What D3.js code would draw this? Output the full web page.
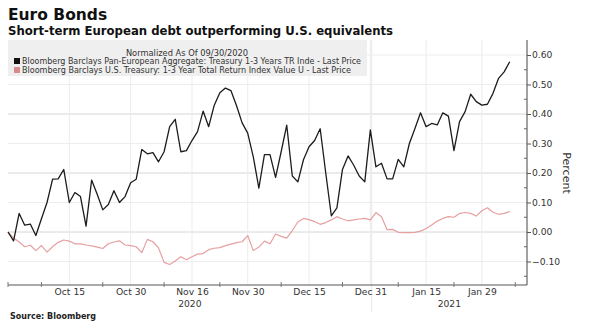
<!DOCTYPE html>
<html>
<head>
<meta charset="utf-8">
<script src="https://cdn.jsdelivr.net/npm/d3@7"></script>
<style>
  html, body { margin: 0; padding: 0; background: #fff; }
  svg { display: block; font-family: "DejaVu Sans", Verdana, sans-serif; }
</style>
</head>
<body>
<svg id="chart" width="594" height="330"></svg>
<script>
// ---------- DATA ----------
const dates = [
  "2020-09-30",
  "2020-10-01","2020-10-02","2020-10-05","2020-10-06","2020-10-07","2020-10-08","2020-10-09",
  "2020-10-12","2020-10-13","2020-10-14","2020-10-15","2020-10-16","2020-10-19","2020-10-20",
  "2020-10-21","2020-10-22","2020-10-23","2020-10-26","2020-10-27","2020-10-28","2020-10-29","2020-10-30",
  "2020-11-02","2020-11-03","2020-11-04","2020-11-05","2020-11-06","2020-11-09","2020-11-10",
  "2020-11-11","2020-11-12","2020-11-13","2020-11-16","2020-11-17","2020-11-18","2020-11-19",
  "2020-11-20","2020-11-23","2020-11-24","2020-11-25","2020-11-26","2020-11-27","2020-11-30",
  "2020-12-01","2020-12-02","2020-12-03","2020-12-04","2020-12-07","2020-12-08","2020-12-09",
  "2020-12-10","2020-12-11","2020-12-14","2020-12-15","2020-12-16","2020-12-17","2020-12-18",
  "2020-12-21","2020-12-22","2020-12-23","2020-12-24","2020-12-28","2020-12-29","2020-12-30","2020-12-31",
  "2021-01-04","2021-01-05","2021-01-06","2021-01-07","2021-01-08","2021-01-11","2021-01-12",
  "2021-01-13","2021-01-14","2021-01-15","2021-01-18","2021-01-19","2021-01-20","2021-01-21",
  "2021-01-22","2021-01-25","2021-01-26","2021-01-27","2021-01-28","2021-01-29",
  "2021-02-01","2021-02-02","2021-02-03","2021-02-04","2021-02-05"
];

const euroSeries = [
  0.000,-0.030,0.063,0.023,0.027,-0.012,0.045,0.100,0.179,0.180,
  0.212,0.100,0.134,0.120,0.020,0.176,0.128,0.075,0.093,0.140,
  0.100,0.120,0.167,0.179,0.280,0.265,0.269,0.238,0.272,0.357,
  0.382,0.272,0.276,0.310,0.340,0.410,0.357,0.430,0.472,0.488,
  0.479,0.428,0.370,0.335,0.255,0.149,0.262,0.262,0.185,0.272,
  0.362,0.190,0.170,0.245,0.289,0.310,0.350,0.200,0.055,0.082,
  0.212,0.258,0.227,0.190,0.170,0.346,0.221,0.233,0.180,0.180,
  0.246,0.221,0.300,0.351,0.404,0.357,0.368,0.363,0.404,0.393,
  0.276,0.374,0.408,0.467,0.442,0.430,0.433,0.470,0.521,0.543,
  0.577
];

const usSeries = [
  0.000,-0.020,-0.034,-0.050,-0.045,-0.063,-0.046,-0.068,-0.050,-0.035,
  -0.027,-0.031,-0.040,-0.040,-0.044,-0.047,-0.051,-0.056,-0.040,-0.034,
  -0.030,-0.044,-0.046,-0.050,-0.070,-0.025,-0.033,-0.054,-0.103,-0.110,
  -0.098,-0.084,-0.094,-0.084,-0.075,-0.073,-0.060,-0.055,-0.053,-0.046,
  -0.041,-0.036,-0.033,-0.012,-0.063,-0.051,-0.031,-0.040,-0.007,-0.015,
  -0.021,0.005,0.034,0.046,0.042,0.035,0.026,0.032,0.041,0.052,
  0.044,0.038,0.041,0.044,0.046,0.041,0.066,0.052,0.008,0.009,
  -0.001,-0.002,-0.002,-0.001,0.003,0.012,0.024,0.037,0.046,0.052,
  0.050,0.063,0.066,0.063,0.054,0.072,0.082,0.067,0.060,0.063,
  0.069
];

const xTickDates  = ["2020-10-15","2020-10-30","2020-11-16","2020-11-30","2020-12-15","2020-12-31","2021-01-15","2021-01-29"];
const xTickLabels = ["Oct 15","Oct 30","Nov 16","Nov 30","Dec 15","Dec 31","Jan 15","Jan 29"];
const xMinorTicks = [6,17,28,38,49,60,70,80,91];           // trading-day index
const yearLabels  = ["2020","2021"];
const yTicks      = [-0.10,0.00,0.10,0.20,0.30,0.40,0.50,0.60];
const yMinorTicks = [-0.15,-0.05,0.05,0.15,0.25,0.35,0.45,0.55];

const seriesNames = [
  "Bloomberg Barclays Pan-European Aggregate: Treasury 1-3 Years TR Inde - Last Price",
  "Bloomberg Barclays U.S. Treasury: 1-3 Year Total Return Index Value U - Last Price"
];
const seriesColors = ["#1c1c1c", "#e6a0a0"];
const legendSwatch = ["#111111", "#d98a8a"];

// ---------- LAYOUT ----------
const svg = d3.select("#chart");
const plotL = 8, plotR = 527, plotT = 40, plotB = 285;

const x = d3.scaleLinear().domain([0, 93.1]).range([plotL, plotR]);
const y = d3.scaleLinear().domain([-0.10, 0.60]).range([261.5, 55]);

const idx = d => dates.indexOf(d);
const yearSplit = dates.findIndex(d => d.startsWith("2021")) - 0.75;

// gridlines
const grid = svg.append("g");
grid.selectAll("line.h").data(yTicks).join("line")
  .attr("x1", plotL).attr("x2", plotR)
  .attr("y1", d => y(d)).attr("y2", d => y(d))
  .attr("stroke", (d) => (Math.round(d * 100) % 20 === 0 && d < 0.55) ? "#d6d6d6" : "#ededed")
  .attr("stroke-width", 1);
grid.selectAll("line.v").data(xTickDates).join("line")
  .attr("x1", d => x(idx(d))).attr("x2", d => x(idx(d)))
  .attr("y1", plotT).attr("y2", plotB)
  .attr("stroke", "#ececec").attr("stroke-width", 1);

// year separator
svg.append("line")
  .attr("x1", x(yearSplit)).attr("x2", x(yearSplit))
  .attr("y1", plotT).attr("y2", 312)
  .attr("stroke", "#e8e8e8").attr("stroke-width", 1);

// lines
const line = d3.line().x((d, i) => x(i)).y(d => y(d));
svg.append("path").datum(usSeries)
  .attr("fill", "none").attr("stroke", seriesColors[1]).attr("stroke-width", 1.2)
  .attr("stroke-linejoin", "round").attr("d", line);
svg.append("path").datum(euroSeries)
  .attr("fill", "none").attr("stroke", seriesColors[0]).attr("stroke-width", 1.3)
  .attr("stroke-linejoin", "round").attr("d", line);

// legend box
const lg = svg.append("g");
lg.append("rect").attr("x", plotL).attr("y", 40).attr("width", 359).attr("height", 36)
  .attr("fill", "#efefef");
lg.append("text").attr("x", 187).attr("y", 55.5).attr("text-anchor", "middle")
  .attr("font-size", 8.3).attr("fill", "#333").text("Normalized As Of 09/30/2020");
const legendLens = [339, 329];
seriesNames.forEach((name, i) => {
  const by = 64 + i * 9;
  lg.append("rect").attr("x", 14).attr("y", by - 6).attr("width", 6).attr("height", 6)
    .attr("fill", legendSwatch[i]);
  lg.append("text").attr("x", 22).attr("y", by)
    .attr("font-size", 8.3).attr("fill", "#333")
    .attr("textLength", legendLens[i]).attr("lengthAdjust", "spacingAndGlyphs")
    .text(name);
});

// x axis
const xAxisG = svg.append("g").attr("transform", `translate(0,${plotB})`);
xAxisG.append("line").attr("x1", plotL).attr("x2", plotR).attr("y1", 0).attr("y2", 0)
  .attr("stroke", "#555").attr("stroke-width", 1);
const xAxis = d3.axisBottom(x)
  .tickValues(xTickDates.map(idx))
  .tickFormat((d, i) => xTickLabels[i])
  .tickSize(0).tickPadding(3.5);
xAxisG.call(xAxis);
xAxisG.select(".domain").remove();
xAxisG.selectAll("text").attr("font-family", "DejaVu Sans, Verdana, sans-serif")
  .attr("font-size", 9.2).attr("fill", "#333");
xAxisG.selectAll("line.minor").data(xMinorTicks.concat([0])).join("line")
  .attr("class", "minor")
  .attr("x1", d => x(d)).attr("x2", d => x(d)).attr("y1", -3).attr("y2", 2)
  .attr("stroke", "#777").attr("stroke-width", 1);

// year labels
const yearCenters = [(0 + yearSplit) / 2, (yearSplit + x.domain()[1]) / 2];
svg.selectAll("text.year").data(yearLabels).join("text")
  .attr("class", "year")
  .attr("x", (d, i) => x(yearCenters[i])).attr("y", 307)
  .attr("text-anchor", "middle").attr("font-size", 9.2).attr("fill", "#333")
  .text(d => d);

// y axis (right)
const yAxisG = svg.append("g").attr("transform", `translate(${plotR},0)`);
yAxisG.append("line").attr("x1", 0).attr("x2", 0).attr("y1", plotT).attr("y2", plotB)
  .attr("stroke", "#444").attr("stroke-width", 1);
const yAxis = d3.axisRight(y).tickValues(yTicks).tickFormat(d3.format(".2f"))
  .tickSize(4).tickPadding(1);
yAxisG.call(yAxis);
yAxisG.select(".domain").remove();
yAxisG.selectAll(".tick line").attr("stroke", "#555");
yAxisG.selectAll("text").attr("font-family", "DejaVu Sans, Verdana, sans-serif")
  .attr("font-size", 9.2).attr("fill", "#333");
yAxisG.selectAll("line.minor").data(yMinorTicks.filter(v => y(v) <= plotB)).join("line")
  .attr("class", "minor")
  .attr("x1", -3).attr("x2", 0).attr("y1", d => y(d)).attr("y2", d => y(d))
  .attr("stroke", "#666");

svg.append("text")
  .attr("transform", `translate(563,173) rotate(90)`)
  .attr("text-anchor", "middle").attr("font-size", 11).attr("fill", "#333")
  .text("Percent");

// titles
svg.append("text").attr("x", 8).attr("y", 20).attr("font-size", 15.5)
  .attr("font-weight", "bold").attr("fill", "#111").text("Euro Bonds");
svg.append("text").attr("x", 8).attr("y", 35).attr("font-size", 11.7)
  .attr("font-weight", "bold").attr("fill", "#111")
  .text("Short-term European debt outperforming U.S. equivalents");
svg.append("text").attr("x", 10).attr("y", 319).attr("font-size", 8)
  .attr("font-weight", "bold").attr("fill", "#222").text("Source: Bloomberg");
</script>
</body>
</html>
